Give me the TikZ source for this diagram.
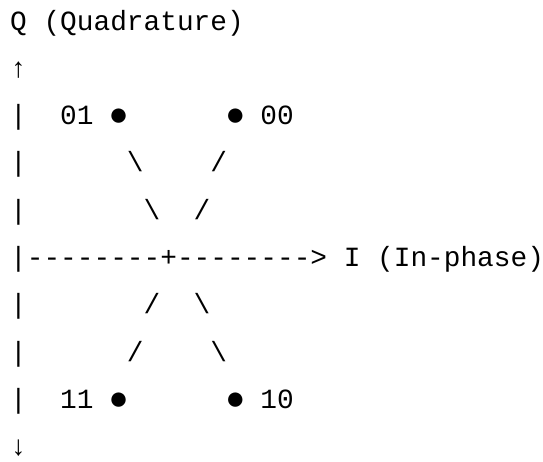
\documentclass[tikz,border=0pt]{standalone}
\usepackage{fontspec}
\setmonofont{Liberation Mono}
\usetikzlibrary{positioning}
\newcommand{\bs}{\textbackslash}
% constellation point, a little larger than the font's own bullet
\newcommand{\cpoint}{\makebox[0.6em]{\raisebox{-0.03em}{\scalebox{1.2}{●}}}}

\begin{document}
\begin{tikzpicture}[x=1pt,y=1pt,% everything is one line of fixed-width text
			every node/.style={
				anchor=base west,	% lines start at the same column
				inner sep=0pt,
				font=\ttfamily\fontsize{27.8}{33}\selectfont
			}
		]
		\useasboundingbox (0,0) rectangle (543,-461);
		\node(Qlabel) at (10,-30)	{Q~(Quadrature)};
		\node(Qup) at (10,-77.3)	{↑};
		\node(Row01) at (10,-124.6)	{|~~01~\cpoint~~~~~~\cpoint~00};
		\node(Upper1) at (10,-171.9)	{|~~~~~~\bs~~~~/};
		\node(Upper2) at (10,-219.2)	{|~~~~~~~\bs~~/};
		\node(Iaxis) at (10,-266.5)	{|--------+-------->~I~(In-phase)};
		\node(Lower1) at (10,-313.8)	{|~~~~~~~/~~\bs};
		\node(Lower2) at (10,-361.1)	{|~~~~~~/~~~~\bs};
		\node(Row11) at (10,-408.4)	{|~~11~\cpoint~~~~~~\cpoint~10};
		\node(Qdown) at (10,-455.7)	{↓};
	\end{tikzpicture}
\end{document}
